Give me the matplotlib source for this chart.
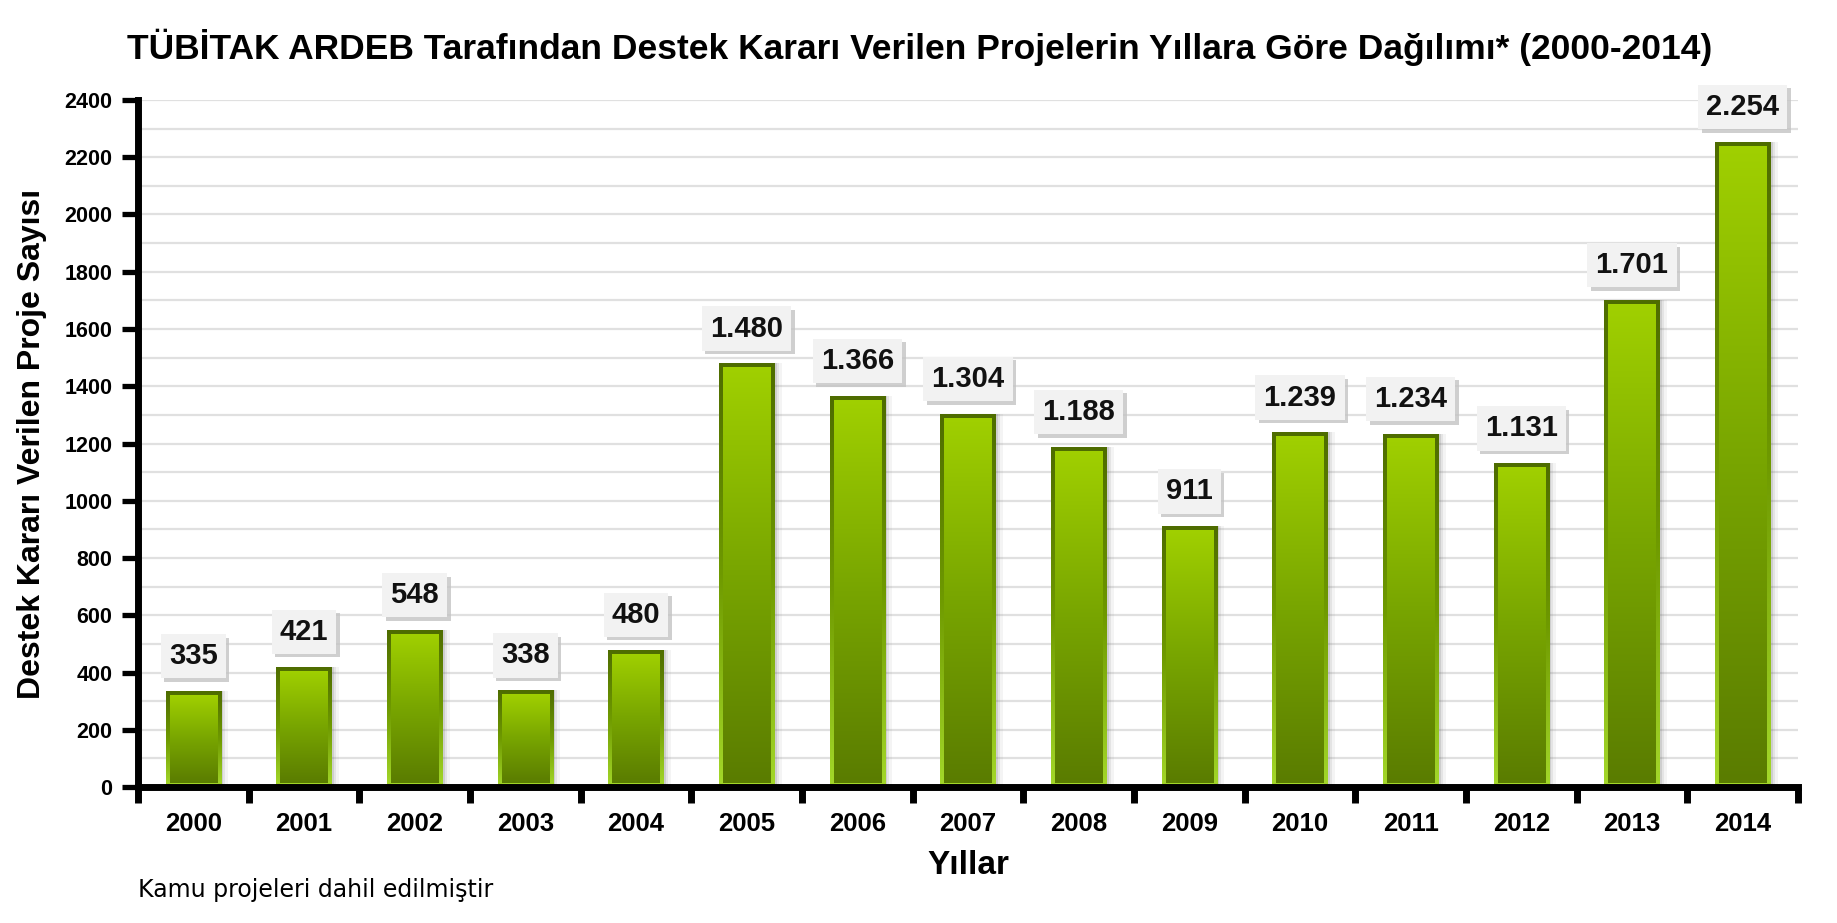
import matplotlib.pyplot as plt
import numpy as np
from matplotlib.colors import LinearSegmentedColormap

years = ['2000', '2001', '2002', '2003', '2004', '2005', '2006', '2007',
         '2008', '2009', '2010', '2011', '2012', '2013', '2014']
projects = [335, 421, 548, 338, 480, 1480, 1366, 1304, 1188, 911,
            1239, 1234, 1131, 1701, 2254]
y_ticks = [0, 200, 400, 600, 800, 1000, 1200, 1400, 1600, 1800, 2000, 2200, 2400]

plt.rcParams['font.family'] = ['Liberation Sans', 'DejaVu Sans']

fig = plt.figure(figsize=(18.37, 9.23), dpi=100)
ax = fig.add_axes([0.0751, 0.1473, 0.9037, 0.7444])

x = np.arange(len(years))
vals = np.array(projects)

# light grid every 100
for g in range(100, 2401, 100):
    ax.axhline(g, color='#e0e0e0', lw=1.6, zorder=0)

# soft shadow on the right of each bar
for off, a in [(0.02, 0.18), (0.04, 0.12), (0.065, 0.07)]:
    ax.bar(x + off, vals, 0.5, color='#707070', alpha=a, lw=0, zorder=1)

# outer bevel: dark on top, lime at bottom
outer = ax.bar(x, vals, 0.5, color='none', lw=0, zorder=2)
inner = ax.bar(x, vals - 28, 0.43, bottom=14, color='none', lw=0, zorder=3)

edge_cmap = LinearSegmentedColormap.from_list('edge', ['#4e6c00', '#6f9a00', '#a4d82a'])
fill_cmap = LinearSegmentedColormap.from_list('fill', ['#a0d000', '#78a500', '#5a7c00'])
grad = np.linspace(0, 1, 256).reshape(-1, 1)

for r in outer:
    bx, by, bw, bh = r.get_x(), r.get_y(), r.get_width(), r.get_height()
    im = ax.imshow(grad, cmap=edge_cmap, aspect='auto', origin='upper',
                   extent=(bx, bx + bw, by, by + bh), zorder=2)
    im.set_clip_path(r)
for r in inner:
    bx, by, bw, bh = r.get_x(), r.get_y(), r.get_width(), r.get_height()
    im = ax.imshow(grad, cmap=fill_cmap, aspect='auto', origin='upper',
                   extent=(bx, bx + bw, by, by + bh), zorder=3)
    im.set_clip_path(r)

# value labels in small boxes
for xi, v in zip(x, vals):
    txt = f'{v:,}'.replace(',', '.')
    ax.annotate(txt, (xi, v), xytext=(2.5, 12.5), textcoords='offset points',
                ha='center', va='bottom', fontsize=21, fontweight='bold', color='#c4c4c4',
                bbox=dict(boxstyle='square,pad=0.28', fc='#c4c4c4', ec='none', alpha=0.8),
                zorder=4, annotation_clip=False)
    ax.annotate(txt, (xi, v), xytext=(0, 15), textcoords='offset points',
                ha='center', va='bottom', fontsize=21, fontweight='bold', color='#111111',
                bbox=dict(boxstyle='square,pad=0.28', fc='#f2f2f2', ec='none'),
                zorder=5, annotation_clip=False)

ax.set_xlim(-0.5, len(years) - 0.5)
ax.set_ylim(0, 2400)

ax.set_xticks(np.arange(-0.5, len(years), 1.0))
ax.set_xticklabels([])
ax.set_xticks(x, minor=True)
ax.set_xticklabels(years, minor=True, fontsize=18.5, fontweight='bold')
ax.tick_params(axis='x', which='major', direction='out', length=11.5, width=5, color='black')
ax.tick_params(axis='x', which='minor', length=0, pad=18)

ax.set_yticks(y_ticks)
ax.set_yticklabels([str(t) for t in y_ticks], fontsize=15.5, fontweight='bold')
ax.tick_params(axis='y', direction='out', length=11.5, width=3.8, color='black', pad=7)

for s in ['top', 'right']:
    ax.spines[s].set_visible(False)
for s in ['left', 'bottom']:
    ax.spines[s].set_linewidth(5)
    ax.spines[s].set_color('black')
    ax.spines[s].set_capstyle('projecting')

ax.set_ylabel('Destek Kararı Verilen Proje Sayısı', fontsize=23, fontweight='bold')
ax.yaxis.set_label_coords(-0.0548, 0.5)
ax.set_xlabel('Yıllar', fontsize=24, fontweight='bold')
ax.xaxis.set_label_coords(0.5, -0.092)

fig.text(0.5008, 0.949, 'TÜBİTAK ARDEB Tarafından Destek Kararı Verilen Projelerin Yıllara Göre Dağılımı* (2000-2014)',
         ha='center', va='center', fontsize=25.5, fontweight='bold')
fig.text(0.0751, 0.0358, 'Kamu projeleri dahil edilmiştir', ha='left', va='center',
         fontsize=17, family='DejaVu Sans')

fig.savefig('out.png', dpi=100, facecolor='white')
